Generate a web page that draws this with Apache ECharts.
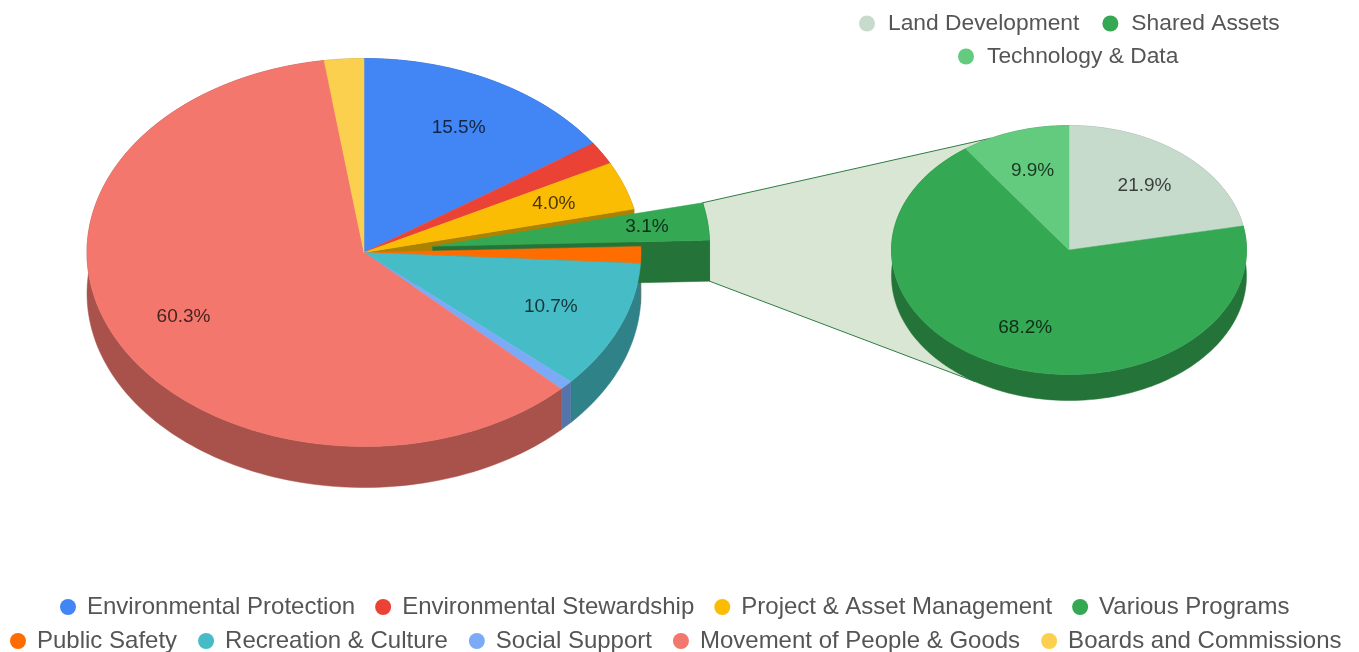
<!DOCTYPE html>
<html>
<head>
<meta charset="utf-8">
<script src="https://cdn.jsdelivr.net/npm/echarts@6/dist/echarts.min.js"></script>
<style>
html, body { margin: 0; padding: 0; background: #fff; }
#chart { width: 1359px; height: 652px; }
</style>
</head>
<body>
<div id="chart"></div>
<script>
// main pie
var mainNames = ['Environmental Protection', 'Environmental Stewardship', 'Project & Asset Management', 'Various Programs',
    'Public Safety', 'Recreation & Culture', 'Social Support', 'Movement of People & Goods', 'Boards and Commissions'];
var mainValues = [15.5, 1.9, 4.0, 3.1, 1.4, 10.7, 0.8, 60.3, 2.3];
var mainColors = ['#4285f4', '#ea4335', '#fbbc04', '#34a853', '#ff6d01', '#46bdc6', '#7baaf7', '#f3776d', '#fcd04f'];

// breakdown of the pulled out slice
var subNames = ['Land Development', 'Shared Assets', 'Technology & Data'];
var subValues = [21.9, 68.2, 9.9];
var subColors = ['#c7dbcc', '#34a853', '#62cb7e'];

var pulledName = 'Various Programs';
var pulledIndex = mainNames.indexOf(pulledName);

var mainPie = { cx: 364, cy: 252.5, rx: 277, ry: 194, depth: 41, labelR: 0.73 };
var subPie = { cx: 1069, cy: 250, rx: 177.5, ry: 124.5, depth: 26, labelR: 0.67 };
var explode = 0.25;
var labelFont = '19px "Liberation Sans", Arial, sans-serif';

function toAngles(values) {
    var total = values.reduce(function (a, b) { return a + b; }, 0);
    var sum = 0;
    return values.map(function (v) {
        var a0 = sum / total * 360;
        sum += v;
        return [a0, sum / total * 360];
    });
}
var mainAngles = toAngles(mainValues);
var subAngles = toAngles(subValues);

function pt(pie, deg, r) {
    var t = deg * Math.PI / 180;
    return [pie.cx + Math.sin(t) * pie.rx * r, pie.cy - Math.cos(t) * pie.ry * r];
}
function arc(pie, a0, a1) {
    var pts = [];
    var n = Math.max(2, Math.ceil((a1 - a0) / 1.5));
    for (var i = 0; i <= n; i++) {
        pts.push(pt(pie, a0 + (a1 - a0) * i / n, 1));
    }
    return pts;
}
function down(p, d) { return [p[0], p[1] + d]; }
function darker(hex) {
    var c = parseInt(hex.slice(1), 16);
    var f = 0.69;
    return 'rgb(' + Math.round((c >> 16) * f) + ',' + Math.round(((c >> 8) & 255) * f) + ',' + Math.round((c & 255) * f) + ')';
}
function poly(points, fill) {
    return { type: 'polygon', shape: { points: points }, style: { fill: fill, stroke: fill, lineWidth: 0.5 } };
}
function outerWall(pie, a0, a1, fill) {
    var top = arc(pie, a0, a1);
    var bottom = top.map(function (p) { return down(p, pie.depth); }).reverse();
    return poly(top.concat(bottom), fill);
}
function cutWall(pie, deg, fill) {
    var c = [pie.cx, pie.cy], p = pt(pie, deg, 1);
    return poly([c, p, down(p, pie.depth), down(c, pie.depth)], fill);
}
function face(pie, a0, a1, fill) {
    return poly([[pie.cx, pie.cy]].concat(arc(pie, a0, a1)), fill);
}
function label(pie, a0, a1, value, r) {
    return {
        type: 'text',
        style: {
            text: value.toFixed(1) + '%',
            x: pt(pie, (a0 + a1) / 2, r)[0],
            y: pt(pie, (a0 + a1) / 2, r)[1],
            align: 'center',
            verticalAlign: 'middle',
            font: labelFont,
            fill: 'rgba(0,0,0,0.72)'
        }
    };
}

// the pulled slice is the same pie moved along its mid angle
var pulledMid = (mainAngles[pulledIndex][0] + mainAngles[pulledIndex][1]) / 2;
var pulledCentre = pt(mainPie, pulledMid, explode);
var pulledPie = { cx: pulledCentre[0], cy: pulledCentre[1], rx: mainPie.rx, ry: mainPie.ry, depth: mainPie.depth };

function indexData(arr) {
    return arr.map(function (v, i) { return [i]; });
}

function renderConnector() {
    var a = pulledAngles();
    var p0 = pt(pulledPie, a[0], 1);
    var p1 = down(pt(pulledPie, a[1], 1), pulledPie.depth);
    var q0 = pt(subPie, -26, 1);
    var q1 = down(pt(subPie, 212, 1), subPie.depth);
    return {
        type: 'polygon',
        shape: { points: [p0, q0, q1, p1] },
        style: { fill: '#d9e6d3', stroke: '#2f7d46', lineWidth: 1 }
    };
}
function pulledAngles() {
    return mainAngles[pulledIndex];
}
function renderMainWall(params, api) {
    var i = api.value(0);
    if (i === pulledIndex) return null;
    var a = mainAngles[i];
    var parts = [outerWall(mainPie, a[0], a[1], darker(mainColors[i]))];
    // wall seen through the gap left by the pulled slice
    if (i === pulledIndex - 1) parts.push(cutWall(mainPie, a[1], darker(mainColors[i])));
    return { type: 'group', children: parts };
}
function renderPulled() {
    var a = pulledAngles();
    var col = mainColors[pulledIndex];
    var dark = darker(col);
    return {
        type: 'group',
        children: [
            outerWall(pulledPie, a[0], a[1], dark),
            cutWall(pulledPie, a[1], dark),
            face(pulledPie, a[0], a[1], col),
            label(pulledPie, a[0], a[1], mainValues[pulledIndex], 0.78)
        ]
    };
}
function renderMainFace(params, api) {
    var i = api.value(0);
    if (i === pulledIndex) return null;
    var a = mainAngles[i];
    var parts = [face(mainPie, a[0], a[1], mainColors[i])];
    if (mainValues[i] >= 3) parts.push(label(mainPie, a[0], a[1], mainValues[i], mainPie.labelR));
    return { type: 'group', children: parts };
}
function renderSubWall(params, api) {
    var i = api.value(0);
    var a = subAngles[i];
    return outerWall(subPie, a[0], a[1], darker(subColors[i]));
}
function renderSubFace(params, api) {
    var i = api.value(0);
    var a = subAngles[i];
    return {
        type: 'group',
        children: [face(subPie, a[0], a[1], subColors[i]), label(subPie, a[0], a[1], subValues[i], subPie.labelR)]
    };
}
function drawLayer(name, data, render, z) {
    return { type: 'custom', id: name, coordinateSystem: 'none', data: data, renderItem: render, z: z, silent: true, animation: false };
}

var series = [
    drawLayer('connector', [[0]], renderConnector, 1),
    drawLayer('mainWalls', indexData(mainValues), renderMainWall, 2),
    drawLayer('pulled', [[0]], renderPulled, 3),
    drawLayer('mainFaces', indexData(mainValues), renderMainFace, 4),
    drawLayer('subWalls', indexData(subValues), renderSubWall, 5),
    drawLayer('subFaces', indexData(subValues), renderSubFace, 6)
];
// only there to feed the legends
function legendSeries(names, colors) {
    names.forEach(function (n, i) {
        series.push({
            type: 'custom', name: n, coordinateSystem: 'none', data: [],
            itemStyle: { color: colors[i] },
            renderItem: function () { return null; }
        });
    });
}
legendSeries(mainNames, mainColors);
legendSeries(subNames, subColors);

function legendRow(names, left, top, gap, size, textGap) {
    return {
        data: names, left: left, top: top, orient: 'horizontal',
        icon: 'circle', itemWidth: 16, itemHeight: 16, itemGap: gap, selectedMode: false,
        padding: 0,
        textStyle: { color: '#555', fontSize: size, fontFamily: '"Liberation Sans", Arial, sans-serif', padding: [0, 0, 0, textGap] }
    };
}

var chart = echarts.init(document.getElementById('chart'), null, { renderer: 'canvas' });
chart.setOption({
    animation: false,
    backgroundColor: '#fff',
    legend: [
        legendRow(mainNames.slice(0, 4), 60, 595, 20, 24, 6),
        legendRow(mainNames.slice(4), 10, 629, 21, 24, 6),
        legendRow(subNames.slice(0, 2), 859, 12, 23, 22.8, 8),
        legendRow(subNames.slice(2), 958, 45, 23, 22.8, 8)
    ],
    series: series
});
</script>
</body>
</html>
